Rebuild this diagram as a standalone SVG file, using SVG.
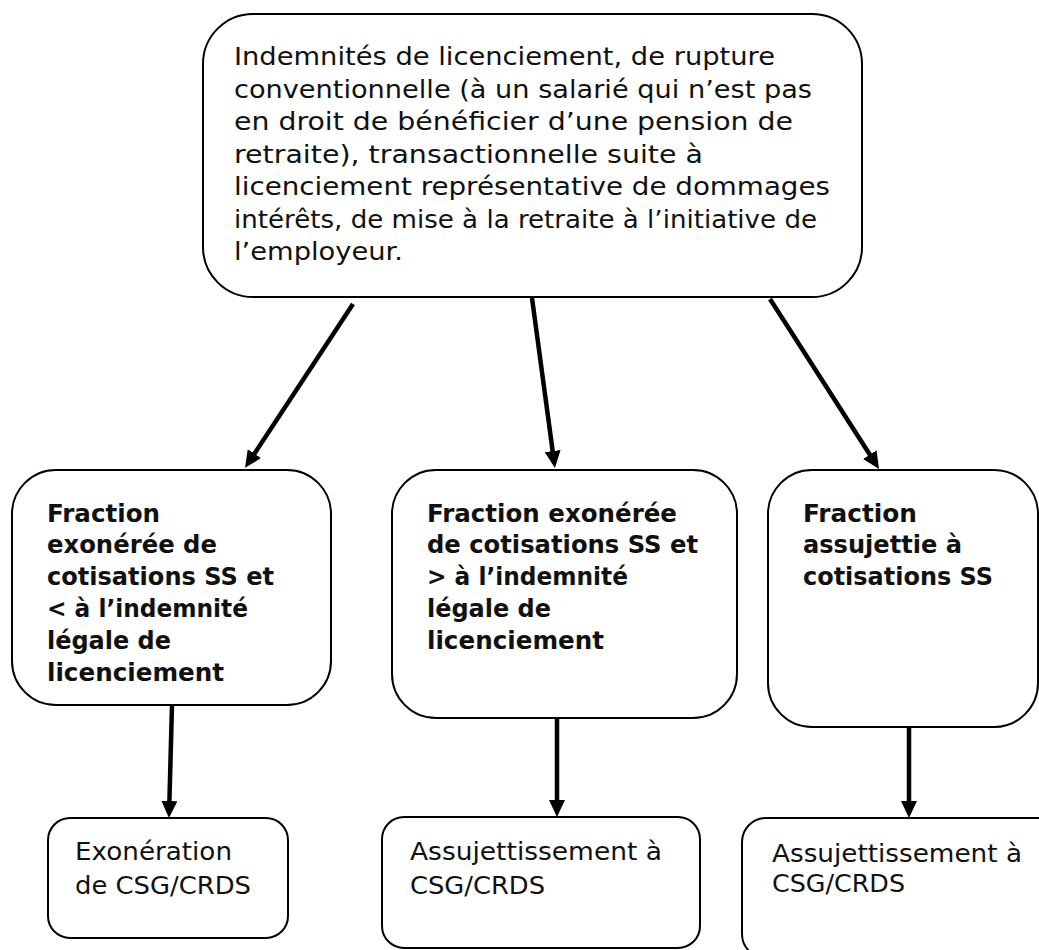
<svg xmlns="http://www.w3.org/2000/svg" width="1039" height="950" viewBox="0 0 1039 950">
<style>
.box{fill:#fff;stroke:#000;stroke-width:2}
.t{font-family:"DejaVu Sans","Liberation Sans",sans-serif;fill:#111}
.top{font-size:25px}
.b{font-size:25.5px;font-weight:bold}
.s{font-size:24px}
.edge{stroke:#000;stroke-width:4.5;fill:none;marker-end:url(#ah)}
</style>
<defs>
<marker id="ah" viewBox="0 0 17 16" markerWidth="17" markerHeight="16" markerUnits="userSpaceOnUse" refX="4" refY="8" orient="auto">
<path d="M0,0 L17,8 L0,16 z" fill="#000"/>
</marker>
</defs>
<rect width="1039" height="950" fill="#fff"/>
<g id="connectors">
<path class="edge" d="M353,304 L252.2,457"/>
<path class="edge" d="M532,298 L553.2,455"/>
<path class="edge" d="M770,299 L872,458"/>
<path class="edge" d="M172,705 L169.3,805"/>
<path class="edge" d="M557,718 L557,804"/>
<path class="edge" d="M909,727 L909,805"/>
</g>
<g id="top">
<rect class="box" x="203" y="14" width="659" height="283" rx="50"/>
<text class="t top">
<tspan x="234" y="65" textLength="541" lengthAdjust="spacingAndGlyphs">Indemnités de licenciement, de rupture</tspan>
<tspan x="234" y="97.5" textLength="578" lengthAdjust="spacingAndGlyphs">conventionnelle (à un salarié qui n’est pas</tspan>
<tspan x="234" y="130" textLength="559" lengthAdjust="spacingAndGlyphs">en droit de bénéficier d’une pension de</tspan>
<tspan x="234" y="162.5" textLength="469" lengthAdjust="spacingAndGlyphs">retraite), transactionnelle suite à</tspan>
<tspan x="234" y="195" textLength="596" lengthAdjust="spacingAndGlyphs">licenciement représentative de dommages</tspan>
<tspan x="234" y="227.5" textLength="583" lengthAdjust="spacingAndGlyphs">intérêts, de mise à la retraite à l’initiative de</tspan>
<tspan x="234" y="260" textLength="169" lengthAdjust="spacingAndGlyphs">l’employeur.</tspan>
</text>
</g>
<g id="boxA">
<rect class="box" x="12" y="470" width="319" height="235" rx="44"/>
<text class="t b">
<tspan x="47" y="521.5" textLength="113" lengthAdjust="spacingAndGlyphs">Fraction</tspan>
<tspan x="47" y="552.5" textLength="170" lengthAdjust="spacingAndGlyphs">exonérée de</tspan>
<tspan x="47" y="584.5" textLength="227" lengthAdjust="spacingAndGlyphs">cotisations SS et</tspan>
<tspan x="47" y="616.5" textLength="201" lengthAdjust="spacingAndGlyphs">&lt; à l’indemnité</tspan>
<tspan x="47" y="648.5" textLength="124" lengthAdjust="spacingAndGlyphs">légale de</tspan>
<tspan x="47" y="681" textLength="177" lengthAdjust="spacingAndGlyphs">licenciement</tspan>
</text>
</g>
<g id="boxB">
<rect class="box" x="392" y="470" width="345" height="248" rx="44"/>
<text class="t b">
<tspan x="427" y="521.5" textLength="250" lengthAdjust="spacingAndGlyphs">Fraction exonérée</tspan>
<tspan x="427" y="553" textLength="271" lengthAdjust="spacingAndGlyphs">de cotisations SS et</tspan>
<tspan x="427" y="585" textLength="201" lengthAdjust="spacingAndGlyphs">&gt; à l’indemnité</tspan>
<tspan x="427" y="616.5" textLength="124" lengthAdjust="spacingAndGlyphs">légale de</tspan>
<tspan x="427" y="648.5" textLength="177" lengthAdjust="spacingAndGlyphs">licenciement</tspan>
</text>
</g>
<g id="boxC">
<rect class="box" x="768" y="470" width="270" height="257" rx="44"/>
<text class="t b">
<tspan x="803" y="521.5" textLength="114" lengthAdjust="spacingAndGlyphs">Fraction</tspan>
<tspan x="803" y="552.5" textLength="159" lengthAdjust="spacingAndGlyphs">assujettie à</tspan>
<tspan x="803" y="584.5" textLength="190" lengthAdjust="spacingAndGlyphs">cotisations SS</tspan>
</text>
</g>
<g id="boxD">
<rect class="box" x="48" y="818" width="240" height="120" rx="22"/>
<text class="t s">
<tspan x="75" y="860" textLength="157" lengthAdjust="spacingAndGlyphs">Exonération</tspan>
<tspan x="75" y="894" textLength="176" lengthAdjust="spacingAndGlyphs">de CSG/CRDS</tspan>
</text>
</g>
<g id="boxE">
<rect class="box" x="382" y="817" width="318" height="131" rx="22"/>
<text class="t s">
<tspan x="410" y="860" textLength="252" lengthAdjust="spacingAndGlyphs">Assujettissement à</tspan>
<tspan x="410" y="894" textLength="135" lengthAdjust="spacingAndGlyphs">CSG/CRDS</tspan>
</text>
</g>
<g id="boxF">
<rect class="box" x="742" y="818" width="320" height="140" rx="24"/>
<text class="t s">
<tspan x="772" y="862" textLength="250" lengthAdjust="spacingAndGlyphs">Assujettissement à</tspan>
<tspan x="772" y="892" textLength="133" lengthAdjust="spacingAndGlyphs">CSG/CRDS</tspan>
</text>
</g>
</svg>
